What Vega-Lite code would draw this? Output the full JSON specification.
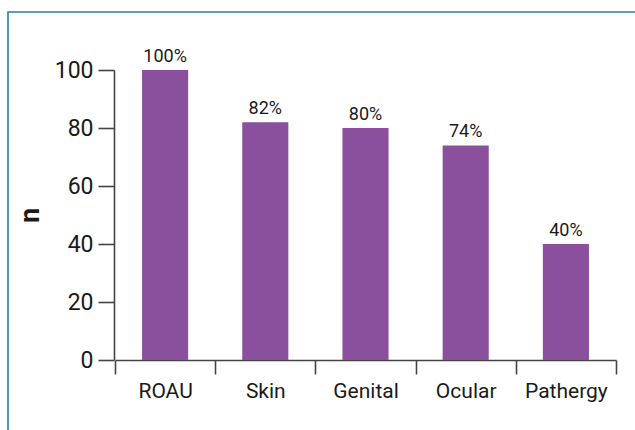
{
  "$schema": "https://vega.github.io/schema/vega-lite/v6.json",
  "autosize": "none",
  "width": 628,
  "height": 419,
  "padding": {"left": 8, "top": 12, "right": 0, "bottom": 0},
  "background": "white",
  "config": {
    "view": {"stroke": "#2b7ea3", "strokeWidth": 1.6},
    "font": "Roboto"
  },
  "data": {
    "values": [
      {"site": "ROAU", "n": 100, "label": "100%"},
      {"site": "Skin", "n": 82, "label": "82%"},
      {"site": "Genital", "n": 80, "label": "80%"},
      {"site": "Ocular", "n": 74, "label": "74%"},
      {"site": "Pathergy", "n": 40, "label": "40%"}
    ]
  },
  "encoding": {
    "x": {
      "field": "site",
      "type": "nominal",
      "sort": null,
      "scale": {"range": [107, 608], "paddingInner": 0, "paddingOuter": 0},
      "axis": {
        "title": null,
        "orient": "bottom",
        "offset": -71,
        "tickBand": "extent",
        "labelAngle": 0,
        "labelFont": "Roboto",
        "labelFontSize": 21,
        "labelColor": "#1a1a1a",
        "labelPadding": 6,
        "domainColor": "#444444",
        "domainWidth": 1.6,
        "tickColor": "#444444",
        "tickWidth": 1.6,
        "tickSize": 14
      }
    },
    "y": {
      "field": "n",
      "type": "quantitative",
      "scale": {"domain": [0, 100], "range": [348, 58], "nice": false},
      "axis": {
        "title": "n",
        "offset": -106,
        "values": [0, 20, 40, 60, 80, 100],
        "grid": false,
        "labelFont": "Roboto",
        "labelFontSize": 23,
        "labelColor": "#1a1a1a",
        "labelPadding": 5,
        "domainColor": "#444444",
        "domainWidth": 1.6,
        "tickColor": "#444444",
        "tickWidth": 1.6,
        "tickSize": 16,
        "titleFont": "Roboto",
        "titleFontSize": 27,
        "titleFontWeight": "bold",
        "titleColor": "#1a1a1a",
        "titlePadding": 10
      }
    }
  },
  "layer": [
    {
      "mark": {"type": "bar", "color": "#8a4f9d", "width": {"band": 0.46}}
    },
    {
      "mark": {
        "type": "text",
        "baseline": "bottom",
        "dy": -4,
        "font": "Roboto",
        "fontSize": 18,
        "color": "#1a1a1a"
      },
      "encoding": {"text": {"field": "label"}}
    }
  ]
}
